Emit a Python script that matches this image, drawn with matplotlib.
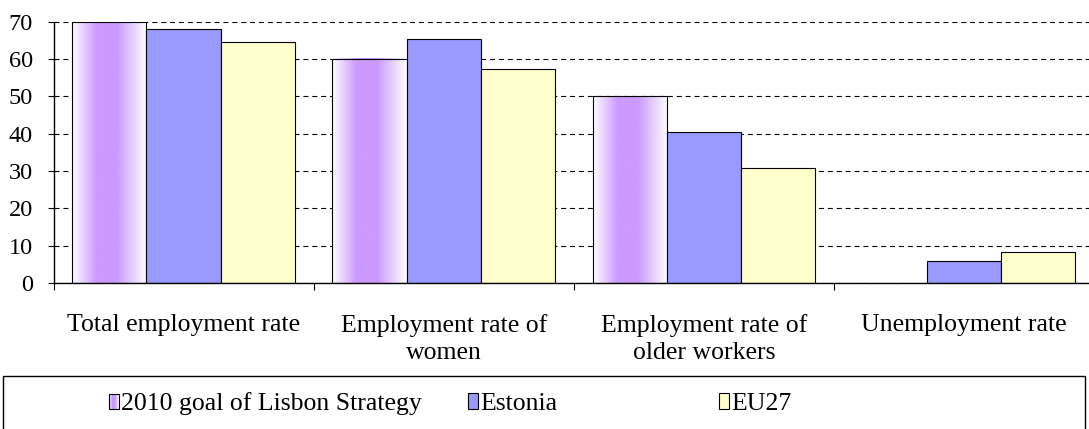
import matplotlib
matplotlib.use('Agg')
import matplotlib.pyplot as plt
import numpy as np
from matplotlib.colors import LinearSegmentedColormap
from matplotlib.patches import Rectangle
from matplotlib.legend_handler import HandlerBase

categories = ['Total employment rate', 'Employment rate of\nwomen',
              'Employment rate of\nolder workers', 'Unemployment rate']
goal = [70, 60, 50, np.nan]
estonia = [68.0, 65.3, 40.3, 5.9]
eu27 = [64.4, 57.2, 30.7, 8.2]
series_names = ['2010 goal of Lisbon Strategy', 'Estonia', 'EU27']
yticks = [0, 10, 20, 30, 40, 50, 60, 70]

plt.rcParams['font.family'] = ['Liberation Serif', 'DejaVu Serif']

purple = LinearSegmentedColormap.from_list(
    'lisbon', [(0, '#ffffff'), (0.33, '#cc99ff'), (0.6, '#cc99ff'), (1, '#ffffff')])
grad = np.linspace(0, 1, 256).reshape(1, -1)

fig = plt.figure(figsize=(10.89, 4.29), dpi=100)
ax = fig.add_axes([53.5 / 1089, 1 - 283 / 429, (1094 - 53.5) / 1089, (283 - 21.5) / 429])

x = np.arange(len(categories))
w = 0.285

# goal bars: gradient filled
gbars = ax.bar(x - w, goal, w, color='none', edgecolor='black', lw=0.8, zorder=3)
for b in gbars:
    h = b.get_height()
    if np.isnan(h):
        continue
    ax.imshow(grad, cmap=purple, aspect='auto', zorder=2.5,
              extent=[b.get_x(), b.get_x() + b.get_width(), 0, h])
ax.bar(x, estonia, w, color='#9999ff', edgecolor='black', lw=0.8, zorder=3)
ax.bar(x + w, eu27, w, color='#ffffcc', edgecolor='black', lw=0.8, zorder=3)

ax.set_xlim(-0.5, len(categories) - 0.5)
ax.set_ylim(0, 70)
ax.set_yticks(yticks)
ax.tick_params(axis='y', labelsize=17.5, length=4, width=0.8, pad=11)
ax.set_xticks(x)
ax.set_xticklabels(categories, fontsize=18.5, linespacing=1.3)
ax.tick_params(axis='x', which='major', length=0, pad=22)
ax.set_xticks(np.arange(-0.5, len(categories)), minor=True)
ax.tick_params(axis='x', which='minor', length=5, width=0.8, direction='out')

ax.yaxis.grid(True, linestyle=(0, (4.5, 3.5)), color='black', lw=0.8)
ax.set_axisbelow(True)
for s in ['top', 'right']:
    ax.spines[s].set_visible(False)
for s in ['left', 'bottom']:
    ax.spines[s].set_linewidth(1.0)
    ax.spines[s].set_zorder(4)


class GradientHandler(HandlerBase):
    def create_artists(self, legend, orig_handle, xdescent, ydescent,
                       width, height, fontsize, trans):
        n = 10
        arts = []
        for i in range(n):
            r = Rectangle((-xdescent + i * width / n, -ydescent), width / n, height,
                          facecolor=purple((i + 0.5) / n), edgecolor='none', transform=trans)
            arts.append(r)
        arts.append(Rectangle((-xdescent, -ydescent), width, height, fill=False,
                              edgecolor='black', lw=0.8, transform=trans))
        return arts


handles = [Rectangle((0, 0), 1, 1),
           Rectangle((0, 0), 1, 1, facecolor='#9999ff', edgecolor='black', lw=0.8),
           Rectangle((0, 0), 1, 1, facecolor='#ffffcc', edgecolor='black', lw=0.8)]
leg_x = [109, 468, 719]
for hnd, name, px in zip(handles, series_names, leg_x):
    fig.legend(handles=[hnd], labels=[name], loc='center left',
               bbox_to_anchor=(px / 1089, 1 - 404 / 429), frameon=False,
               fontsize=18.5, handlelength=0.38, handleheight=0.55,
               handletextpad=0.1, borderpad=0, borderaxespad=0,
               handler_map={handles[0]: GradientHandler()})

fig.patches.append(Rectangle((3 / 1089, -0.05), (1085 - 3) / 1089, (429 - 376) / 429 + 0.05,
                             transform=fig.transFigure, fill=False, edgecolor='black', lw=1.0))

fig.savefig('out.png', dpi=100)
